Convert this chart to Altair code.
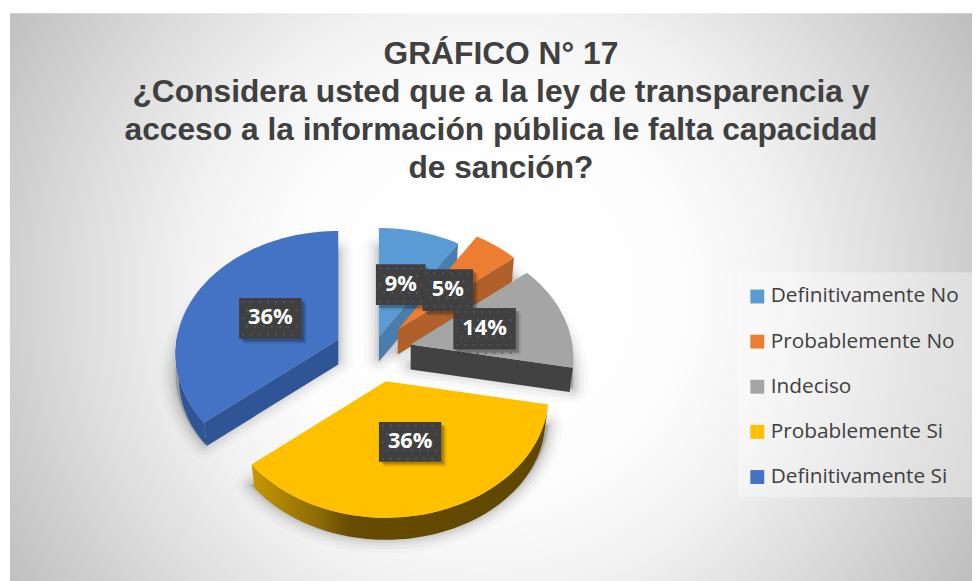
import math
import altair as alt

# ---- data
categories = ["Definitivamente No", "Probablemente No", "Indeciso", "Probablemente Si", "Definitivamente Si"]
percent = [9, 5, 14, 36, 36]
top_colors = ["#5B9BD5", "#ED7D31", "#A5A5A5", "#FFC000", "#4472C4"]
wall_colors = ["#4A7DAC", "#B0602A", "#424242", "#664C00", "#2F5597"]
title_lines = [
    "GRÁFICO N° 17",
    "¿Considera usted que a la ley de transparencia y",
    "acceso a la información pública le falta capacidad",
    "de sanción?",
]
labels = ["9%", "5%", "14%", "36%", "36%"]

# ---- layout (page pixels inside the svg: picture coordinate minus the 8px margin)
W, H = 972, 580
M = 8
DX = 3
apex_x = [379, 398, 411, 386, 338]
apex_y = [337, 330, 345, 382, 340]
R, RK, P, DEPTH = 163, 122, 0.113, 25
box_left = [376, 423, 454, 379, 238]
box_right = [426, 474, 517, 442, 301]
box_top = [264, 269, 308, 423, 298]
box_bottom = [305, 311, 350, 463, 339]
title_x = 502
title_y = [62, 100, 138.5, 177]


def rim(i, deg, rf=1.0, dy=0.0):
    t = math.radians(deg)
    forward = -math.cos(t)
    f = 1 / (1 - P * forward)
    return [apex_x[i] - M + DX + rf * R * math.sin(t) * f,
            apex_y[i] - M + rf * RK * forward * f + dy]


def arc(i, a, b, rf=1.0, dy=0.0):
    n = max(2, int(abs(b - a) / 2))
    return [rim(i, a + (b - a) * k / n, rf, dy) for k in range(n + 1)]


def wedge(i, a, b, dy=0.0):
    return [[apex_x[i] - M + DX, apex_y[i] - M + dy]] + arc(i, a, b, 1.0, dy)


def outer_wall(i, a, b):
    return arc(i, a, b) + arc(i, a, b, 0.98, DEPTH)[::-1]


def radial_wall(i, deg):
    ax, ay = apex_x[i] - M + DX, apex_y[i] - M
    return [[ax, ay], rim(i, deg), rim(i, deg, 0.98, DEPTH), [ax, ay + DEPTH]]


def geo(polys, cat=""):
    feats = []
    for p in polys:
        ring = [list(c) for c in p] + [list(p[0])]
        feats.append({"type": "Feature", "properties": {"cat": cat},
                      "geometry": {"type": "Polygon", "coordinates": [ring]}})
    return alt.Data(values={"type": "FeatureCollection", "features": feats},
                    format=alt.DataFormat(type="json", property="features"))


proj = dict(type="identity", scale=1, translate=[0, 0])

legend = alt.Legend(
    orient="none", legendX=745, legendY=278, title=None,
    symbolType="square", symbolSize=196, symbolStrokeWidth=0, symbolOpacity=1,
    labelFont="Open Sans", labelFontSize=21, labelColor="#404040", labelOffset=3,
    rowPadding=23.5, padding=0, labelLimit=300,
)
color = alt.Color(
    "properties.cat:N", legend=legend,
    scale=alt.Scale(domain=categories, range=top_colors),
)

# cumulative angles
edges = [0.0]
for v in percent:
    edges.append(edges[-1] + v * 3.6)

layers = []

# background: a square so that the radial gradient stays a true circle
layers.append(
    alt.Chart(alt.Data(values=[{"a": 0}])).mark_rect(
        fill=alt.Gradient(
            gradient="radial", x1=0.5, y1=0.5, r1=0.0, x2=0.5, y2=0.5, r2=0.5,
            stops=[
                alt.GradientStop(offset=0, color="#ffffff"),
                alt.GradientStop(offset=0.33, color="#fdfdfd"),
                alt.GradientStop(offset=0.5, color="#f2f2f2"),
                alt.GradientStop(offset=0.67, color="#dfdfdf"),
                alt.GradientStop(offset=0.94, color="#bfbfbf"),
                alt.GradientStop(offset=1, color="#bbbbbb"),
            ],
        )
    ).encode(x=alt.value(-118), x2=alt.value(1082), y=alt.value(-311), y2=alt.value(889))
)
# white page margin above and left of the chart area
layers.append(
    alt.Chart(alt.Data(values=[{"a": 0}])).mark_rect(fill="#ffffff").encode(
        x=alt.value(-8), x2=alt.value(2), y=alt.value(-8), y2=alt.value(H))
)
layers.append(
    alt.Chart(alt.Data(values=[{"a": 0}])).mark_rect(fill="#ffffff").encode(
        x=alt.value(-8), x2=alt.value(W), y=alt.value(-8), y2=alt.value(3))
)

# legend panel
layers.append(
    alt.Chart(alt.Data(values=[{"a": 0}])).mark_rect(
        fill="#ffffff", opacity=0.35
    ).encode(x=alt.value(736), x2=alt.value(W), y=alt.value(264), y2=alt.value(491))
)

# soft shadows
for i in range(5):
    shape = wedge(i, edges[i], edges[i + 1], DEPTH - 4)
    for sw, op in [(4, 0.06), (9, 0.05), (15, 0.04), (22, 0.03), (30, 0.02)]:
        layers.append(
            alt.Chart(geo([shape])).mark_geoshape(
                fill="#000000", fillOpacity=0.04, stroke="#000000",
                strokeWidth=sw, strokeOpacity=op, strokeJoin="round",
            ).project(**proj)
        )

# slices, back to front
yellow_wall = alt.Gradient(
    gradient="linear", x1=0, y1=0, x2=1, y2=0,
    stops=[
        alt.GradientStop(offset=0, color="#C89800"),
        alt.GradientStop(offset=0.22, color="#8E6C06"),
        alt.GradientStop(offset=0.33, color="#664C00"),
        alt.GradientStop(offset=1, color="#5F4700"),
    ],
)
walls = [
    [radial_wall(0, edges[1])],
    [radial_wall(1, edges[2])],
    [radial_wall(2, edges[3])],
    [outer_wall(3, edges[3], edges[4])],
    [outer_wall(4, edges[4], 272), radial_wall(4, edges[4])],
]
for i in range(5):
    fill = yellow_wall if i == 3 else wall_colors[i]
    layers.append(
        alt.Chart(geo(walls[i])).mark_geoshape(fill=fill, strokeWidth=0).project(**proj)
    )
    layers.append(
        alt.Chart(geo([wedge(i, edges[i], edges[i + 1])], categories[i]))
        .mark_geoshape(strokeWidth=0, opacity=1)
        .encode(color=color)
        .project(**proj)
    )

# value labels
xs = alt.Scale(domain=[0, W], range=[0, W])
ys = alt.Scale(domain=[0, H], range=[0, H])
for i in [4, 3, 0, 1, 2]:
    l, r, t, b = box_left[i] - M + DX, box_right[i] - M + DX, box_top[i] - M, box_bottom[i] - M
    for k, (off, op) in enumerate([(5, 0.10), (3, 0.22)]):
        layers.append(
            alt.Chart(alt.Data(values=[{"l": l + off, "r": r + off, "t": t + off, "b": b + off}]))
            .mark_rect(color="#000000", opacity=op)
            .encode(
                x=alt.X("l:Q", scale=xs, axis=None), x2="r:Q",
                y=alt.Y("t:Q", scale=ys, axis=None), y2="b:Q",
            )
        )
    layers.append(
        alt.Chart(alt.Data(values=[{"l": l, "r": r, "t": t, "b": b}]))
        .mark_rect(color="#404040")
        .encode(
            x=alt.X("l:Q", scale=xs, axis=None), x2="r:Q",
            y=alt.Y("t:Q", scale=ys, axis=None), y2="b:Q",
        )
    )
    dots = [{"x": l + 4 + 8.3 * a + (4.15 if c % 2 else 0), "y": t + 4 + 8.3 * c}
            for a in range(int((r - l) / 8.3)) for c in range(int((b - t) / 8.3) + 1)
            if l + 4 + 8.3 * a + (4.15 if c % 2 else 0) < r - 2]
    layers.append(
        alt.Chart(alt.Data(values=dots)).mark_square(size=3, color="#5C5C5C", opacity=1).encode(
            x=alt.X("x:Q", scale=xs, axis=None), y=alt.Y("y:Q", scale=ys, axis=None)
        )
    )
    layers.append(
        alt.Chart(alt.Data(values=[{"x": (l + r) / 2, "y": (t + b) / 2 - 1, "s": labels[i]}]))
        .mark_text(font="Open Sans", fontSize=22, fontWeight="bold", color="#ffffff", baseline="middle")
        .encode(
            x=alt.X("x:Q", scale=xs, axis=None),
            y=alt.Y("y:Q", scale=ys, axis=None),
            text="s:N",
        )
    )

# title
layers.append(
    alt.Chart(alt.Data(values=[
        {"x": title_x - M + DX, "y": yy - M, "s": s} for yy, s in zip(title_y, title_lines)
    ])).mark_text(
        font="Liberation Sans", fontSize=32, fontWeight="bold", color="#404040",
        align="center", baseline="alphabetic",
    ).encode(
        x=alt.X("x:Q", scale=xs, axis=None),
        y=alt.Y("y:Q", scale=ys, axis=None),
        text="s:N",
    )
)

chart = alt.layer(*layers).properties(
    width=W, height=H,
    padding=0,
    autosize=alt.AutoSizeParams(type="none"),
    background="#ffffff",
).configure_view(stroke=None).resolve_scale(x="shared", y="shared")

chart.save("out.html", embed_options={"renderer": "svg", "actions": False})
